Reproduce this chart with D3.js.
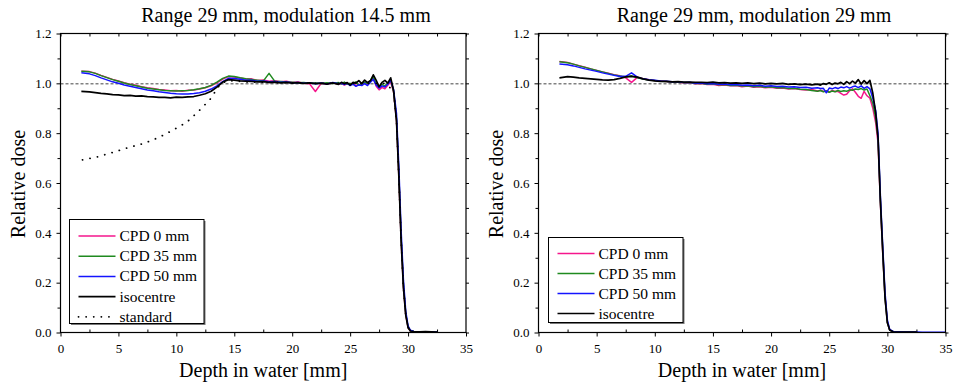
<!DOCTYPE html>
<html><head><meta charset="utf-8">
<script src="https://cdn.jsdelivr.net/npm/d3@7"></script>
<style>
html,body{margin:0;padding:0;background:#fff;}
svg text{font-family:"Liberation Serif","Times New Roman",serif;fill:#000;}
</style></head>
<body><svg id="chart" width="956" height="388"></svg>
<script>
// ---------------- DATA ----------------
const xTicks = [0, 5, 10, 15, 20, 25, 30, 35];
const xMinor = [2.5, 7.5, 12.5, 17.5, 22.5, 27.5, 32.5];
const yTicks = [0.0, 0.2, 0.4, 0.6, 0.8, 1.0, 1.2];
const yMinor = [0.1, 0.3, 0.5, 0.7, 0.9, 1.1];
const refLevel = 0.998;

const titles = ["Range 29 mm, modulation 14.5 mm", "Range 29 mm, modulation 29 mm"];
const xLabel = "Depth in water [mm]";
const yLabel = "Relative dose";
const seriesNamesL = ["CPD 0 mm", "CPD 35 mm", "CPD 50 mm", "isocentre", "standard"];
const seriesNamesR = ["CPD 0 mm", "CPD 35 mm", "CPD 50 mm", "isocentre"];

const depth = [1.8, 2.5, 3, 3.5, 4, 4.5, 5, 5.5, 6, 6.5,
  7, 7.5, 8, 8.5, 9, 9.5, 10, 10.5, 11, 11.5,
  12, 12.5, 13, 13.5, 14, 14.5, 15, 15.5, 16, 16.5,
  17, 17.5, 18, 18.5, 19, 19.5, 20, 20.5, 21, 21.5,
  22, 22.5, 23, 23.5, 24, 24.25, 24.5, 24.75, 25, 25.25,
  25.5, 25.75, 26, 26.25, 26.5, 26.75, 27, 27.25, 27.5, 27.75,
  28, 28.25, 28.5, 28.75, 29, 29.2, 29.4, 29.6, 29.8, 30,
  30.2, 30.5, 31, 31.5, 32, 32.5, 33, 34, 35];

// Left panel (modulation 14.5 mm)
const cpd0L = [1.049, 1.047, 1.041, 1.032, 1.024, 1.016, 1.009, 1.002, 0.996, 0.992,
  0.986, 0.982, 0.979, 0.975, 0.973, 0.970, 0.971, 0.968, 0.972, 0.973,
  0.977, 0.982, 0.990, 1.002, 1.017, 1.027, 1.025, 1.021, 1.017, 1.018,
  1.011, 1.013, 1.008, 1.010, 1.006, 1.008, 1.003, 1.005, 1.000, 0.998,
  0.967, 1.000, 0.997, 1.002, 0.996, 1.000, 0.993, 0.998, 0.994, 1.002,
  0.990, 0.996, 0.993, 1.003, 0.996, 1.008, 1.020, 0.988, 0.974, 0.984,
  0.978, 0.992, 1.006, 0.965, 0.85, 0.63, 0.37, 0.18, 0.07, 0.02,
  0.006, 0.003, 0.003, 0.002, 0.002, 0.002, null, null, null];
const cpd35L = [1.048, 1.046, 1.040, 1.031, 1.023, 1.015, 1.008, 1.001, 0.995, 0.990,
  0.985, 0.980, 0.977, 0.974, 0.971, 0.970, 0.969, 0.970, 0.971, 0.974,
  0.978, 0.983, 0.992, 1.005, 1.020, 1.029, 1.027, 1.022, 1.018, 1.015,
  1.012, 1.009, 1.040, 1.008, 1.007, 1.005, 1.004, 1.002, 1.003, 1.000,
  1.001, 0.999, 1.002, 0.999, 1.003, 0.997, 1.005, 0.996, 1.000, 0.995,
  1.006, 0.992, 0.998, 1.003, 1.000, 1.012, 1.025, 0.996, 0.986, 0.996,
  0.990, 1.000, 1.015, 0.968, 0.86, 0.64, 0.38, 0.19, 0.075, 0.022,
  0.007, 0.004, 0.003, 0.003, 0.002, 0.002, null, null, null];
const cpd50L = [1.042, 1.038, 1.031, 1.022, 1.014, 1.006, 1.000, 0.993, 0.988, 0.983,
  0.978, 0.973, 0.970, 0.966, 0.963, 0.960, 0.958, 0.957, 0.957, 0.959,
  0.962, 0.968, 0.977, 0.990, 1.007, 1.020, 1.019, 1.016, 1.012, 1.012,
  1.008, 1.009, 1.006, 1.007, 1.004, 1.005, 1.002, 1.003, 1.000, 1.001,
  0.998, 1.001, 0.997, 1.003, 0.998, 1.000, 0.995, 1.001, 0.991, 0.997,
  0.988, 0.994, 0.991, 0.999, 0.991, 1.004, 1.016, 0.993, 0.981, 0.990,
  0.985, 0.996, 1.012, 0.975, 0.88, 0.67, 0.41, 0.21, 0.085, 0.027,
  0.009, 0.004, 0.003, 0.003, 0.002, 0.002, null, null, null];
const isoL = [0.968, 0.966, 0.963, 0.960, 0.958, 0.955, 0.954, 0.951, 0.952, 0.949,
  0.950, 0.947, 0.946, 0.944, 0.944, 0.942, 0.945, 0.944, 0.946, 0.947,
  0.952, 0.958, 0.968, 0.985, 1.005, 1.015, 1.013, 1.010, 1.009, 1.008,
  1.006, 1.007, 1.004, 1.005, 1.002, 1.004, 1.001, 1.003, 1.000, 1.002,
  0.999, 1.001, 0.997, 1.002, 0.996, 1.004, 0.998, 1.003, 0.993, 1.004,
  1.001, 1.011, 0.999, 1.013, 1.003, 1.010, 1.034, 1.012, 0.986, 1.004,
  1.012, 1.001, 1.022, 0.970, 0.85, 0.63, 0.37, 0.18, 0.07, 0.02,
  0.006, 0.004, 0.003, 0.004, 0.003, 0.002, null, null, null];
const stdDepthL = [1.9, 3.2, 4.6, 5.9, 7.2, 8.5, 9.7, 10.9, 11.9, 12.9, 13.2, 13.5, 13.9, 14.4, 15,
  16, 18, 20, 22, 24, 26, 28, 28.75, 29, 29.2, 29.4, 29.6, 29.8, 30, 30.2, 30.5];
const stdL = [0.693, 0.705, 0.724, 0.743, 0.759, 0.783, 0.812, 0.844, 0.887, 0.935, 0.955, 0.980, 1.000, 1.010, 1.010,
  1.006, 1.004, 1.002, 1.000, 1.000, 1.000, 1.000, 0.97, 0.85, 0.63, 0.37, 0.18, 0.07, 0.02, 0.006, 0.003];

// Right panel (modulation 29 mm)
const cpd0R = [1.088, 1.084, 1.077, 1.071, 1.065, 1.058, 1.052, 1.046, 1.041, 1.035,
  1.030, 1.022, 1.004, 1.024, 1.018, 1.014, 1.011, 1.009, 1.007, 1.004,
  1.005, 1.001, 1.002, 0.998, 0.999, 0.995, 0.996, 0.991, 0.993, 0.990,
  0.991, 0.986, 0.989, 0.984, 0.986, 0.982, 0.984, 0.980, 0.981, 0.977,
  0.979, 0.975, 0.973, 0.975, 0.969, 0.972, 0.967, 0.970, 0.965, 0.971,
  0.967, 0.968, 0.960, 0.953, 0.956, 0.970, 0.978, 0.964, 0.948, 0.940,
  0.968, 0.950, 0.940, 0.90, 0.84, 0.76, 0.52, 0.32, 0.14, 0.04,
  0.010, 0.003, 0.002, 0.002, 0.002, 0.002, null, null, null];
const cpd35R = [1.087, 1.083, 1.077, 1.070, 1.064, 1.058, 1.052, 1.046, 1.040, 1.034,
  1.029, 1.025, 1.030, 1.022, 1.017, 1.013, 1.011, 1.008, 1.007, 1.005,
  1.006, 1.002, 1.003, 0.999, 1.000, 0.996, 0.998, 0.994, 0.995, 0.991,
  0.992, 0.989, 0.990, 0.986, 0.988, 0.984, 0.986, 0.982, 0.983, 0.979,
  0.980, 0.976, 0.975, 0.971, 0.968, 0.971, 0.966, 0.969, 0.964, 0.969,
  0.966, 0.971, 0.967, 0.970, 0.968, 0.974, 0.972, 0.977, 0.975, 0.979,
  0.973, 0.977, 0.950, 0.92, 0.86, 0.78, 0.53, 0.33, 0.14, 0.04,
  0.010, 0.003, 0.002, 0.002, 0.002, 0.002, null, null, null];
const cpd50R = [1.078, 1.075, 1.070, 1.064, 1.058, 1.053, 1.048, 1.042, 1.037, 1.032,
  1.027, 1.028, 1.042, 1.025, 1.018, 1.014, 1.012, 1.009, 1.008, 1.006,
  1.006, 1.003, 1.004, 1.000, 1.001, 0.998, 0.999, 0.996, 0.997, 0.994,
  0.995, 0.992, 0.993, 0.990, 0.992, 0.988, 0.990, 0.987, 0.988, 0.985,
  0.986, 0.983, 0.984, 0.980, 0.982, 0.979, 0.980, 0.962, 0.981, 0.978,
  0.983, 0.979, 0.985, 0.982, 0.987, 0.981, 0.986, 0.989, 0.983, 0.990,
  0.980, 0.987, 0.978, 0.94, 0.89, 0.80, 0.55, 0.35, 0.16, 0.05,
  0.012, 0.004, 0.003, 0.002, 0.002, 0.002, 0.001, 0.001, 0.001];
const isoR = [1.022, 1.027, 1.025, 1.022, 1.020, 1.018, 1.016, 1.014, 1.013, 1.015,
  1.020, 1.026, 1.028, 1.025, 1.018, 1.013, 1.010, 1.008, 1.008, 1.006,
  1.007, 1.005, 1.005, 1.004, 1.004, 1.003, 1.005, 1.002, 1.003, 1.001,
  1.002, 1.000, 1.002, 0.999, 1.001, 0.998, 1.000, 0.998, 1.000, 0.996,
  0.998, 0.995, 0.997, 0.994, 0.997, 0.993, 0.999, 0.996, 1.002, 0.995,
  1.001, 0.998, 1.004, 0.996, 1.007, 0.999, 1.009, 1.001, 1.015, 0.997,
  1.011, 0.999, 1.012, 0.96, 0.88, 0.78, 0.53, 0.33, 0.14, 0.04,
  0.010, 0.003, 0.002, 0.002, 0.002, 0.002, null, null, null];

// ---------------- DRAWING ----------------
const FONT = '"Liberation Serif","Times New Roman",serif';
const colors = {pink: "#f5168c", green: "#1f8a1f", blue: "#1414ff", black: "#000000"};
const svg = d3.select("#chart");

function styleAxis(sel) {
  sel.attr("font-family", FONT);
  sel.select(".domain").remove();
  sel.selectAll("text").style("font-family", FONT).style("font-size", "13px");
  sel.selectAll("line").attr("stroke", "#000");
}

function drawPanel(p) {
  const x = d3.scaleLinear().domain([0, 35]).range([p.x0, p.x1]);
  const y = d3.scaleLinear().domain([0, 1.2]).range([332.5, 33.5]);
  const g = svg.append("g");

  // reference dashed line
  g.append("line").attr("x1", p.x0).attr("x2", p.x1)
    .attr("y1", y(refLevel)).attr("y2", y(refLevel))
    .attr("stroke", "#444").attr("stroke-width", 1).attr("stroke-dasharray", "3,2");

  // series
  const clipId = "clip" + p.id;
  svg.append("clipPath").attr("id", clipId).append("rect")
    .attr("x", p.x0).attr("y", 33.5).attr("width", p.x1 - p.x0).attr("height", 299.5);
  const lg = g.append("g").attr("clip-path", `url(#${clipId})`);
  p.series.forEach(s => {
    const pts = s.depth.map((d, i) => [d, s.values[i]]);
    const line = d3.line().defined(d => d[1] != null).x(d => x(d[0])).y(d => y(d[1]));
    lg.append("path").attr("d", line(pts)).attr("fill", "none")
      .attr("stroke", s.color).attr("stroke-width", s.width)
      .attr("stroke-linejoin", "round")
      .attr("stroke-linecap", s.dash ? "round" : "butt")
      .attr("stroke-dasharray", s.dash || null);
  });

  // axes
  g.append("g").attr("transform", `translate(0,332.5)`)
    .call(d3.axisBottom(x).tickValues(xTicks).tickFormat(d3.format("d")).tickSize(4).tickPadding(7).tickSizeOuter(0))
    .call(styleAxis);
  g.append("g").attr("transform", `translate(0,332.5)`)
    .call(d3.axisBottom(x).tickValues(xMinor).tickFormat("").tickSize(-3).tickSizeOuter(0))
    .call(styleAxis);
  g.append("g").attr("transform", `translate(${p.x0},0)`)
    .call(d3.axisLeft(y).tickValues(yTicks).tickFormat(d3.format(".1f")).tickSize(4).tickPadding(5).tickSizeOuter(0))
    .call(styleAxis);
  g.append("g").attr("transform", `translate(${p.x0},0)`)
    .call(d3.axisLeft(y).tickValues(yMinor).tickFormat("").tickSize(3).tickSizeOuter(0))
    .call(styleAxis);
  g.append("g").attr("transform", `translate(0,33.5)`)
    .call(d3.axisTop(x).tickValues(xTicks.concat(xMinor)).tickFormat("").tickSize(-3).tickSizeOuter(0))
    .call(styleAxis);
  g.append("g").attr("transform", `translate(${p.x1},0)`)
    .call(d3.axisRight(y).tickValues(yTicks.concat(yMinor)).tickFormat("").tickSize(3).tickSizeOuter(0))
    .call(styleAxis);

  // frame
  g.append("rect").attr("x", p.x0).attr("y", 33.5).attr("width", p.x1 - p.x0).attr("height", 299)
    .attr("fill", "none").attr("stroke", "#000").attr("stroke-width", 1.2);

  // title & labels
  g.append("text").attr("x", p.titleX).attr("y", 22).attr("text-anchor", "middle")
    .style("font-size", "20px").text(p.title);
  g.append("text").attr("x", (p.x0 + p.x1) / 2).attr("y", 377).attr("text-anchor", "middle")
    .style("font-size", "20px").text(xLabel);
  g.append("text").attr("transform", `translate(${p.x0 - 36},184) rotate(-90)`)
    .attr("text-anchor", "middle").style("font-size", "20px").text(yLabel);

  // legend
  const L = p.legend;
  g.append("rect").attr("x", L.x + 1.5).attr("y", L.y + 1.5).attr("width", L.w).attr("height", L.h)
    .attr("fill", "#777");
  g.append("rect").attr("x", L.x).attr("y", L.y).attr("width", L.w).attr("height", L.h)
    .attr("fill", "#fff").attr("stroke", "#000").attr("stroke-width", 1);
  p.series.forEach((s, i) => {
    const yy = L.row0 + i * L.step;
    g.append("line").attr("x1", L.x + 9).attr("x2", L.x + 46).attr("y1", yy).attr("y2", yy)
      .attr("stroke", s.color).attr("stroke-width", s.width)
      .attr("stroke-linecap", s.dash ? "round" : "butt")
      .attr("stroke-dasharray", s.dash || null);
    g.append("text").attr("x", L.x + 50).attr("y", yy + 5).style("font-size", "15.5px").text(s.name);
  });
}

drawPanel({
  id: "L", x0: 60.5, x1: 466, titleX: 286, title: titles[0],
  series: [
    {name: seriesNamesL[0], depth: depth, values: cpd0L, color: colors.pink, width: 1.5},
    {name: seriesNamesL[1], depth: depth, values: cpd35L, color: colors.green, width: 1.5},
    {name: seriesNamesL[2], depth: depth, values: cpd50L, color: colors.blue, width: 1.5},
    {name: seriesNamesL[3], depth: depth, values: isoL, color: colors.black, width: 1.7},
    {name: seriesNamesL[4], depth: stdDepthL, values: stdL, color: colors.black, width: 1.8, dash: "0.1,7.5"}
  ],
  legend: {x: 69.5, y: 219.5, w: 134.5, h: 104, row0: 236, step: 20.2}
});

drawPanel({
  id: "R", x0: 538.5, x1: 945.5, titleX: 754, title: titles[1],
  series: [
    {name: seriesNamesR[0], depth: depth, values: cpd0R, color: colors.pink, width: 1.5},
    {name: seriesNamesR[1], depth: depth, values: cpd35R, color: colors.green, width: 1.5},
    {name: seriesNamesR[2], depth: depth, values: cpd50R, color: colors.blue, width: 1.5},
    {name: seriesNamesR[3], depth: depth, values: isoR, color: colors.black, width: 1.7}
  ],
  legend: {x: 548.5, y: 237.5, w: 134.5, h: 85, row0: 253.5, step: 20}
});
</script>
</body></html>
